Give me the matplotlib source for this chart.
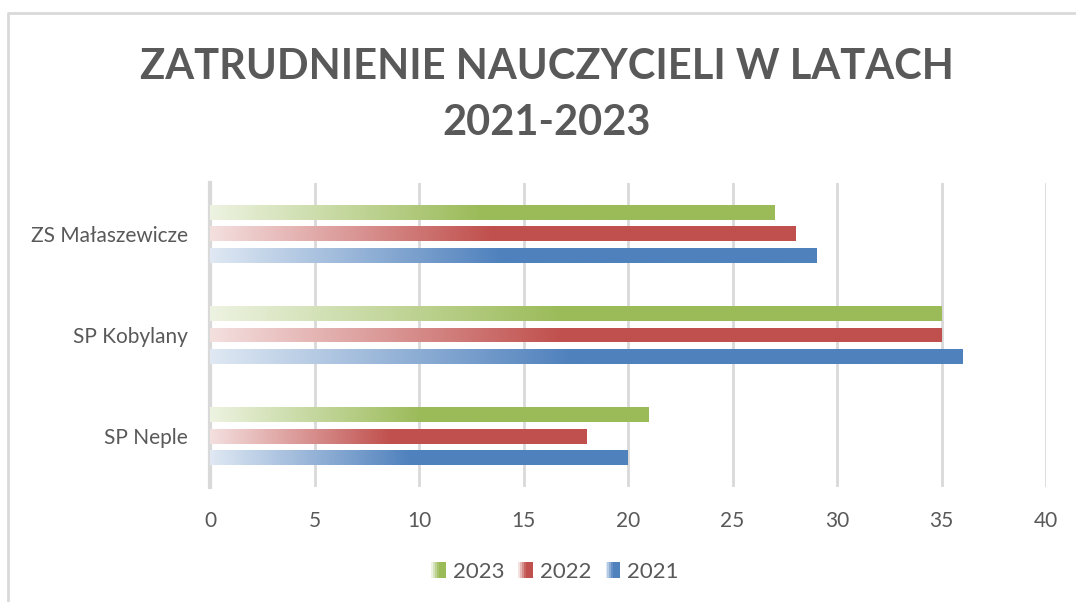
import numpy as np
import matplotlib
matplotlib.use('Agg')
from matplotlib import pyplot as plt
from matplotlib.colors import to_rgb
from matplotlib.patches import Rectangle
from matplotlib.legend_handler import HandlerBase
from matplotlib.lines import Line2D

plt.rcParams['font.family'] = ['Lato', 'DejaVu Sans']

schools = ['SP Neple', 'SP Kobylany', 'ZS Małaszewicze']
years = ['2021', '2022', '2023']
values = {
    '2021': [20, 36, 29],
    '2022': [18, 35, 28],
    '2023': [21, 35, 27],
}
colors = {'2021': '#4F81BD', '2022': '#C0504D', '2023': '#9BBB59'}
ticks_x = [0, 5, 10, 15, 20, 25, 30, 35, 40]

text_col = '#595959'
grid_col = '#D9D9D9'


def gradient(color, n=256, light=0.82, stop=0.48):
    c = np.array(to_rgb(color))
    lo = c + (1 - c) * light
    t = np.clip(np.linspace(0, 1, n) / stop, 0, 1)[:, None]
    return (lo + (c - lo) * t)[None, :, :]


class GradientHandler(HandlerBase):
    def create_artists(self, legend, orig_handle, xdescent, ydescent,
                       width, height, fontsize, trans):
        col = orig_handle.get_color()
        g = gradient(col, n=8, stop=0.5)[0]
        w = height * 0.95
        x0 = width - w
        step = w / len(g)
        arts = []
        for i, c in enumerate(g):
            r = Rectangle((x0 + i * step - xdescent, -ydescent), step * 1.05, height,
                          facecolor=c, edgecolor='none', transform=trans)
            arts.append(r)
        return arts


fig = plt.figure(figsize=(10.76, 6.02), dpi=100)
ax = fig.add_axes([210 / 1076, 1 - 487 / 602, 836 / 1076, 304 / 602])

y = np.arange(len(schools))
bar_h = 0.148
offsets = {'2021': -0.212, '2022': 0.0, '2023': 0.212}

for yr in years:
    bars = ax.barh(y + offsets[yr], values[yr], height=bar_h,
                   facecolor='none', edgecolor='none', zorder=3)
    for rect in bars:
        x0, y0 = rect.get_x(), rect.get_y()
        w, h = rect.get_width(), rect.get_height()
        im = ax.imshow(gradient(colors[yr]), extent=[x0, x0 + w, y0, y0 + h],
                       aspect='auto', interpolation='bilinear', zorder=3)
        im.set_clip_path(rect)

ax.set_xlim(0, 40)
ax.set_ylim(-0.5, 2.5)
ax.set_xticks(ticks_x)
ax.set_yticks(y)
ax.set_yticklabels(schools)
ax.grid(axis='x', color=grid_col, linewidth=2, zorder=0)
ax.set_axisbelow(True)
for s in ['top', 'right', 'bottom']:
    ax.spines[s].set_visible(False)
ax.spines['left'].set_color(grid_col)
ax.spines['left'].set_linewidth(3)
ax.tick_params(axis='both', length=0, labelsize=15, labelcolor=text_col)
ax.tick_params(axis='x', pad=17)
ax.tick_params(axis='y', pad=16)

fig.text(547 / 1076, 1 - 95 / 602, 'ZATRUDNIENIE NAUCZYCIELI W LATACH\n2021-2023',
         ha='center', va='center', fontsize=30, fontweight='bold',
         color=text_col, linespacing=1.55)

# chart area border
fig.add_artist(Line2D([8 / 1076, 8 / 1076, 1], [0, 1 - 13 / 602, 1 - 13 / 602],
                      transform=fig.transFigure, color=grid_col, linewidth=2))

handles = [Line2D([], [], color=colors[yr]) for yr in ['2023', '2022', '2021']]
fig.legend(handles, ['2023', '2022', '2021'], loc='center',
           bbox_to_anchor=(554 / 1076, 1 - 572 / 602), ncol=3, frameon=False,
           fontsize=16, labelcolor=text_col, handler_map={Line2D: GradientHandler()},
           handlelength=0.75, handletextpad=0.3, columnspacing=0.55)

plt.savefig('out.png', dpi=100)
